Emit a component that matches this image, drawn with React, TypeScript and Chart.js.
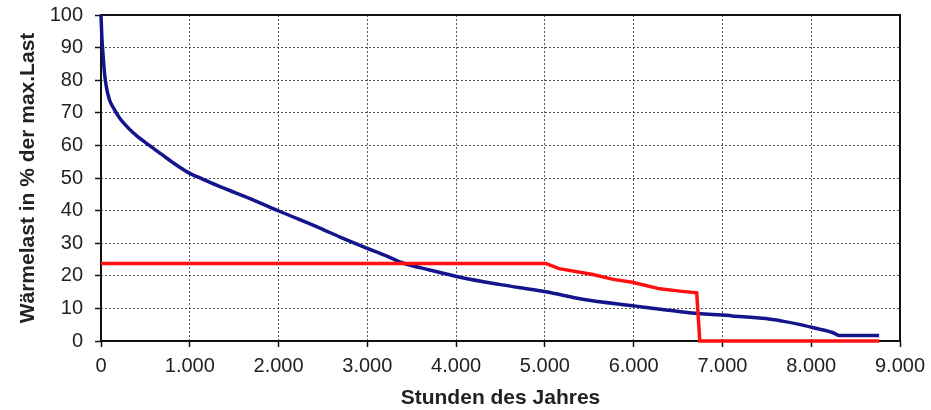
import React, { useEffect, useRef } from "react";
import { Chart, registerables } from "chart.js";

Chart.register(...registerables);

const blueHours = [0, 10, 20, 40, 60, 95, 140, 207, 320, 400, 545, 680, 806, 995, 1150, 1333, 1706, 2009, 2459, 2700, 2985, 3200, 3394, 3700, 4070, 4500, 5012, 5425, 6025, 6367, 6625, 7110, 7490, 7676, 7865, 8050, 8240, 8315, 8765];
const blueLoad = [100, 93, 89, 82, 78, 74, 71.5, 68.5, 65, 63, 60, 57.3, 54.8, 51.5, 49.6, 47.4, 43.4, 39.8, 34.7, 31.8, 28.6, 26.3, 24, 21.8, 19.4, 17.3, 15.1, 12.8, 10.7, 9.5, 8.7, 7.7, 6.9, 6.1, 5.1, 3.9, 2.6, 1.7, 1.7];

const redHours = [0, 5010, 5160, 5540, 5770, 5984, 6295, 6520, 6710, 6745, 8765];
const redLoad = [23.8, 23.8, 22.2, 20.4, 18.9, 18.0, 16.0, 15.3, 14.8, 0, 0];

const xTicks = [0, 1000, 2000, 3000, 4000, 5000, 6000, 7000, 8000, 9000];
const yTicks = [0, 10, 20, 30, 40, 50, 60, 70, 80, 90, 100];

const xTitle = "Stunden des Jahres";
const yTitle = "Wärmelast in % der max.Last";

const FONT = "'Liberation Sans', Arial, sans-serif";

const fmt = (v: number) => String(v).replace(/\B(?=(\d{3})+(?!\d))/g, ".");

const framePlugin = {
  id: "frame",
  beforeDatasetsDraw(chart: any) {
    const { ctx, chartArea: a } = chart;
    ctx.save();
    ctx.strokeStyle = "#111";
    ctx.lineWidth = 2;
    ctx.setLineDash([]);
    ctx.strokeRect(a.left, a.top, a.right - a.left, a.bottom - a.top);
    ctx.restore();
  },
};

export default function App() {
  const ref = useRef<HTMLCanvasElement | null>(null);
  useEffect(() => {
    if (!ref.current) return;
    const chart = new Chart(ref.current, {
      type: "line",
      data: {
        datasets: [
          {
            data: redHours.map((h, i) => ({ x: h, y: redLoad[i] })),
            borderColor: "#ff1010",
            borderWidth: 3.5,
            pointRadius: 0,
            tension: 0,
            clip: 4,
          },
          {
            data: blueHours.map((h, i) => ({ x: h, y: blueLoad[i] })),
            borderColor: "#14148c",
            borderWidth: 3.5,
            pointRadius: 0,
            cubicInterpolationMode: "monotone",
            clip: 4,
          },
        ],
      },
      options: {
        responsive: false,
        animation: false,
        layout: { padding: { top: 15, right: 31, bottom: 0, left: 0 } },
        plugins: { legend: { display: false }, tooltip: { enabled: false } },
        scales: {
          x: {
            type: "linear",
            min: 0,
            max: 9000,
            afterBuildTicks: (s: any) => {
              s.ticks = xTicks.map((v) => ({ value: v }));
            },
            afterFit: (s: any) => {
              s.height = 69;
              s.paddingLeft = 0;
              s.paddingRight = 0;
            },
            border: { display: false, dash: [2, 2] },
            grid: {
              color: "#555",
              lineWidth: 1,
              tickLength: 6,
              tickColor: "#111",
              tickWidth: 1.5,
              tickBorderDash: [],
            },
            ticks: {
              maxRotation: 0,
              autoSkip: false,
              padding: 7,
              color: "#222",
              font: { family: FONT, size: 20 },
              callback: (v: any) => fmt(Number(v)),
            },
            title: {
              display: true,
              text: xTitle,
              color: "#222",
              font: { family: FONT, size: 21, weight: "bold", lineHeight: 1.2 },
              padding: { top: 0, bottom: -1 },
            },
          },
          y: {
            type: "linear",
            min: 0,
            max: 100,
            afterBuildTicks: (s: any) => {
              s.ticks = yTicks.map((v) => ({ value: v }));
            },
            afterFit: (s: any) => {
              s.width = 101;
              s.paddingTop = 0;
              s.paddingBottom = 0;
            },
            border: { display: false, dash: [2, 2] },
            grid: {
              color: "#555",
              lineWidth: 1,
              tickLength: 6,
              tickColor: "#111",
              tickWidth: 1.5,
              tickBorderDash: [],
            },
            ticks: {
              padding: 12,
              color: "#222",
              font: { family: FONT, size: 20 },
            },
            title: {
              display: true,
              text: yTitle,
              color: "#222",
              font: { family: FONT, size: 21, weight: "bold", lineHeight: 1.2 },
              padding: { top: 16, bottom: 0 },
            },
          },
        },
      } as any,
      plugins: [framePlugin],
    });
    return () => chart.destroy();
  }, []);
  return (
    <div style={{ position: "absolute", left: 0, top: 0, width: 931, height: 410, background: "#fff" }}>
      <canvas ref={ref} width={931} height={410} style={{ display: "block" }} />
    </div>
  );
}
